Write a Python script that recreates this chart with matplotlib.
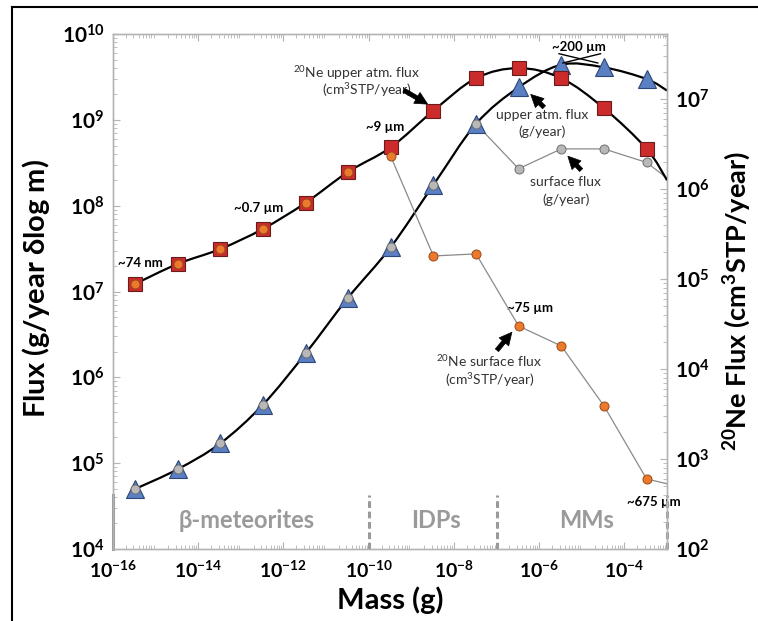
import numpy as np
import matplotlib
matplotlib.use("Agg")
import matplotlib.pyplot as plt
from matplotlib.path import Path
from matplotlib.patches import PathPatch
from matplotlib.lines import Line2D
from matplotlib.ticker import FixedLocator, FixedFormatter, LogLocator, NullFormatter

plt.rcParams["font.family"] = ["Lato", "DejaVu Sans"]
plt.rcParams["mathtext.fontset"] = "custom"
plt.rcParams["mathtext.rm"] = "Lato"
plt.rcParams["mathtext.bf"] = "Lato:bold"
plt.rcParams["mathtext.it"] = "Lato:italic"

# particle mass bins (g)
mass = [3.3e-16, 3.3e-15, 3.3e-14, 3.3e-13, 3.3e-12, 3.3e-11, 3.3e-10,
        3.3e-9, 3.3e-8, 3.3e-7, 3.3e-6, 3.3e-5, 3.3e-4]

# mass flux, g/year per dlog m (left axis)
upper_atm_mass = [5.0e4, 8.5e4, 1.7e5, 4.8e5, 1.9e6, 8.5e6, 3.3e7,
                  1.75e8, 9.0e8, 2.4e9, 4.4e9, 4.1e9, 3.0e9]
surface_mass = [5.0e4, 8.5e4, 1.7e5, 4.8e5, 1.9e6, 8.5e6, 3.3e7,
                1.75e8, 9.0e8, 2.7e8, 4.6e8, 4.6e8, 3.2e8]
# 20Ne flux, cm3STP/year (right axis)
upper_atm_ne = [8.8e4, 1.47e5, 2.15e5, 3.6e5, 7.0e5, 1.55e6, 2.9e6,
                7.4e6, 1.7e7, 2.2e7, 1.7e7, 7.9e6, 2.8e6]
surface_ne = [8.8e4, 1.47e5, 2.15e5, 3.6e5, 7.0e5, 1.55e6, 2.3e6,
              1.8e5, 1.9e5, 3.0e4, 1.8e4, 3.9e3, 6.0e2]

# model curves carried on to the edge of the mass range
edge_mass = 1e-3
edge_upper_atm_mass = 2.2e9
edge_surface_mass = 2.1e8
edge_upper_atm_ne = 1.25e6
edge_surface_ne = 5.3e2

regions = ["β-meteorites", "IDPs", "MMs"]
region_bounds = [1e-16, 1e-10, 1e-7, 1e-3]

xticks = [1e-16, 1e-14, 1e-12, 1e-10, 1e-8, 1e-6, 1e-4]
xticklabels = [r"$\mathbf{10^{-16}}$", r"$\mathbf{10^{-14}}$", r"$\mathbf{10^{-12}}$",
               r"$\mathbf{10^{-10}}$", r"$\mathbf{10^{-8}}$", r"$\mathbf{10^{-6}}$",
               r"$\mathbf{10^{-4}}$"]
yticks_l = [1e4, 1e5, 1e6, 1e7, 1e8, 1e9, 1e10]
yticklabels_l = [r"$\mathbf{10^{%d}}$" % k for k in range(4, 11)]
yticks_r = [1e2, 1e3, 1e4, 1e5, 1e6, 1e7]
yticklabels_r = [r"$\mathbf{10^{%d}}$" % k for k in range(2, 8)]


def smooth_path(xs, ys):
    """Catmull-Rom style bezier through the points, built in log-log space."""
    p = np.column_stack([np.log10(xs), np.log10(ys)])
    n = len(p)
    verts = [p[0]]
    codes = [Path.MOVETO]
    for i in range(n - 1):
        p0 = p[i - 1] if i > 0 else p[i]
        p3 = p[i + 2] if i + 2 < n else p[i + 1]
        c1 = p[i] + (p[i + 1] - p0) / 6.0
        c2 = p[i + 1] - (p3 - p[i]) / 6.0
        verts += [c1, c2, p[i + 1]]
        codes += [Path.CURVE4] * 3
    return Path(10 ** np.array(verts), codes)


fig = plt.figure(figsize=(7.58, 6.21), dpi=100)
ax = fig.add_axes([0.149, 0.116, 0.731, 0.829])
ax2 = ax.twinx()

ax.set_xscale("log")
ax.set_yscale("log")
ax2.set_yscale("log")
ax.set_xlim(1e-16, 1e-3)
ax.set_ylim(1e4, 1e10)
ax2.set_ylim(1e2, 10 ** 7.72)

# black model curves
ax.add_patch(PathPatch(smooth_path(mass + [edge_mass], upper_atm_mass + [edge_upper_atm_mass]),
                       fill=False, lw=1.6, color="black", zorder=3))
ax2.add_patch(PathPatch(smooth_path(mass + [edge_mass], upper_atm_ne + [edge_upper_atm_ne]),
                        fill=False, lw=1.6, color="black", zorder=3))

# thin connectors for the surface fluxes
ax.plot(mass[8:] + [edge_mass], surface_mass[8:] + [edge_surface_mass],
        color="#8a8a8a", lw=0.9, zorder=2)
ax2.plot(mass[6:] + [edge_mass], surface_ne[6:] + [edge_surface_ne],
         color="#8a8a8a", lw=0.9, zorder=2)

ax.plot(mass, upper_atm_mass, ls="none", marker="^", ms=12.5, mfc="#5a7fc2",
        mec="#2e4678", mew=0.8, zorder=4)
ax.plot(mass, surface_mass, ls="none", marker="o", ms=6.5, mfc="#b8b8b8",
        mec="#6e6e6e", mew=0.7, zorder=5)
ax2.plot(mass, upper_atm_ne, ls="none", marker="s", ms=9.5, mfc="#cc2b2b",
         mec="#6a1c1c", mew=0.8, zorder=4)
ax2.plot(mass, surface_ne, ls="none", marker="o", ms=6.5, mfc="#ec7a2c",
         mec="#9a4818", mew=0.7, zorder=5)

# axes styling
spine_col = "#b4b4b4"
for a in (ax, ax2):
    for s in a.spines.values():
        s.set_color(spine_col)
        s.set_linewidth(1.0)
ax.xaxis.set_major_locator(FixedLocator(xticks))
ax.xaxis.set_major_formatter(FixedFormatter(xticklabels))
ax.xaxis.set_minor_locator(LogLocator(base=10, subs=np.arange(2, 10), numticks=30))
ax.xaxis.set_minor_formatter(NullFormatter())
ax.yaxis.set_major_locator(FixedLocator(yticks_l))
ax.yaxis.set_major_formatter(FixedFormatter(yticklabels_l))
ax.yaxis.set_minor_locator(LogLocator(base=10, subs=np.arange(2, 10), numticks=30))
ax.yaxis.set_minor_formatter(NullFormatter())
ax2.yaxis.set_major_locator(FixedLocator(yticks_r))
ax2.yaxis.set_major_formatter(FixedFormatter(yticklabels_r))
ax2.yaxis.set_minor_locator(LogLocator(base=10, subs=np.arange(2, 10), numticks=30))
ax2.yaxis.set_minor_formatter(NullFormatter())

ax.tick_params(axis="x", which="both", direction="in", top=True, color=spine_col, pad=8)
ax.tick_params(axis="y", which="both", direction="in", color=spine_col, pad=6)
ax2.tick_params(axis="y", which="both", direction="in", color=spine_col, pad=6)
for a in (ax, ax2):
    a.tick_params(which="major", length=5, width=0.8, labelsize=15)
    a.tick_params(which="minor", length=3, width=0.6)
ax.tick_params(axis="x", labelsize=14)

fig.text(0.047, 0.535, r"Flux (g/year $\mathbf{\delta}$log m)", rotation=90,
         ha="center", va="center", fontsize=21, fontweight="bold")
fig.text(0.972, 0.515, r"$^{\mathbf{20}}$Ne Flux (cm$^{\mathbf{3}}$STP/year)", rotation=90,
         ha="center", va="center", fontsize=19.5, fontweight="bold")
fig.text(0.515, 0.034, "Mass (g)", ha="center", va="center", fontsize=21, fontweight="bold")

# particle classes along the bottom
region_label_x = [0.242, 0.583, 0.854]
for name, fx in zip(regions, region_label_x):
    ax.text(fx, 0.056, name, transform=ax.transAxes, ha="center", va="center",
            fontsize=17, fontweight="bold", color="#9a9a9a")
ax.plot([region_bounds[0]] * 2, [1e4, 10 ** 4.63], color="#9a9a9a", lw=2.2,
        zorder=6, clip_on=False)
for b in region_bounds[1:]:
    ax.plot([b, b], [1e4, 10 ** 4.63], color="#9a9a9a", lw=2.2, ls=(0, (2.2, 1.2)),
            zorder=6, clip_on=False)

tr = ax.transAxes
bold = dict(fontsize=9.5, fontweight="bold", ha="center", va="center", transform=tr)
ax.text(0.049, 0.555, "~74 nm", **bold)
ax.text(0.263, 0.662, "~0.7 µm", **bold)
ax.text(0.491, 0.819, "~9 µm", **bold)
ax.text(0.841, 0.976, "~200 µm", **bold)
ax.text(0.752, 0.468, "~75 µm", **bold)
ax.text(0.977, 0.091, "~675 µm", clip_on=False, **bold)

note = dict(fontsize=10, color="#333333", ha="center", va="center", transform=tr)
ax.text(0.439, 0.924, r"$^{20}$Ne upper atm. flux", **note)
ax.text(0.458, 0.891, r"(cm$^3$STP/year)", **note)
ax.text(0.775, 0.843, "upper atm. flux", **note)
ax.text(0.775, 0.810, "(g/year)", **note)
ax.text(0.816, 0.713, "surface flux", **note)
ax.text(0.818, 0.678, "(g/year)", **note)
ax.text(0.679, 0.365, r"$^{20}$Ne surface flux", **note)
ax.text(0.681, 0.328, r"(cm$^3$STP/year)", **note)

arrow = dict(arrowstyle="simple,head_length=0.9,head_width=0.9,tail_width=0.3",
             color="black", lw=0.5, shrinkA=0, shrinkB=0)
for tail, head in [((0.525, 0.891), (0.568, 0.864)),
                   ((0.778, 0.858), (0.754, 0.883)),
                   ((0.845, 0.736), (0.821, 0.763)),
                   ((0.693, 0.386), (0.720, 0.421))]:
    ax.annotate("", xy=head, xytext=tail, xycoords=tr, textcoords=tr,
                arrowprops=arrow, zorder=7)

# crossed leader lines under the ~200 µm label
ax.plot([0.805, 0.875], [0.962, 0.944], transform=tr, color="black", lw=1.0,
        zorder=7, clip_on=False)
ax.plot([0.880, 0.812], [0.962, 0.944], transform=tr, color="black", lw=1.0,
        zorder=7, clip_on=False)

# outer frame (top and left edges)
fig.add_artist(Line2D([12 / 758, 1.0], [1 - 7 / 621] * 2, color="black", lw=1.5))
fig.add_artist(Line2D([12 / 758] * 2, [0.0, 1 - 7 / 621], color="black", lw=1.5))

fig.savefig("out.png", dpi=100)
